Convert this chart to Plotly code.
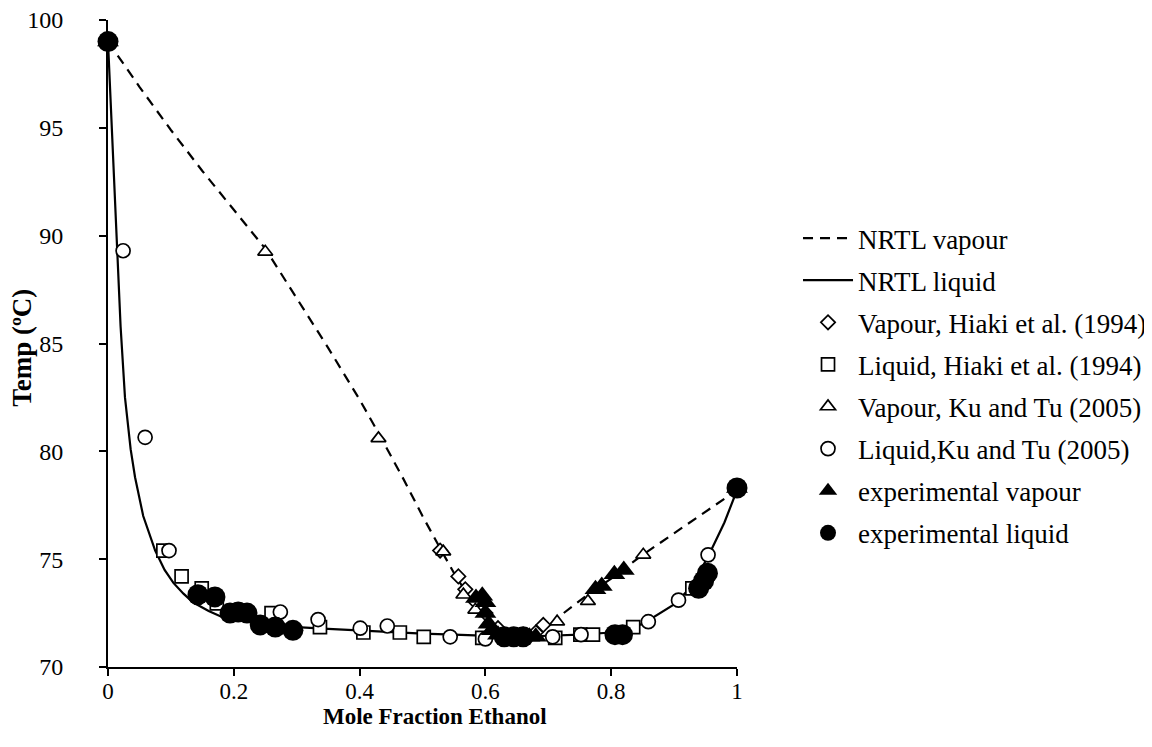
import plotly.graph_objects as go

# NRTL model curves
nrtl_vap_x = [0, 0.05, 0.1, 0.15, 0.2, 0.25, 0.3, 0.35, 0.4, 0.43, 0.47, 0.5, 0.53, 0.555,
              0.576, 0.6, 0.62, 0.64, 0.66, 0.68, 0.7, 0.72, 0.76, 0.8, 0.85, 0.9, 0.95, 1.0]
nrtl_vap_t = [99.0, 96.9, 94.9, 93.0, 91.2, 89.4, 87.1, 84.8, 82.4, 80.85, 78.7, 77.0, 75.4, 74.1,
              73.2, 72.3, 71.75, 71.45, 71.4, 71.55, 71.9, 72.4, 73.3, 74.1, 75.2, 76.2, 77.2, 78.2]

nrtl_liq_x = [0, 0.005, 0.01, 0.014, 0.02, 0.027, 0.036, 0.043, 0.056, 0.075, 0.09, 0.104, 0.12,
              0.135, 0.16, 0.183, 0.22, 0.26, 0.3, 0.35, 0.4, 0.45, 0.5, 0.55, 0.6, 0.65, 0.7,
              0.75, 0.8, 0.85, 0.9, 0.93, 0.957, 0.98, 1.0]
nrtl_liq_t = [99.0, 95.6, 92.4, 89.9, 85.8, 82.5, 80.1, 78.8, 77.0, 75.4, 74.5, 73.9, 73.4,
              73.0, 72.6, 72.3, 72.1, 71.95, 71.85, 71.77, 71.7, 71.6, 71.55, 71.5, 71.45, 71.4, 71.45,
              71.5, 71.6, 72.0, 72.9, 73.8, 75.3, 76.7, 78.2]

# Literature data
hiaki_vap_x = [0.528, 0.557, 0.568, 0.585, 0.6, 0.62, 0.68, 0.692]
hiaki_vap_t = [75.4, 74.2, 73.6, 73.0, 72.5, 71.8, 71.6, 71.95]

hiaki_liq_x = [0.088, 0.117, 0.149, 0.173, 0.26, 0.337, 0.406, 0.464, 0.502, 0.595, 0.711,
               0.751, 0.771, 0.835, 0.929]
hiaki_liq_t = [75.4, 74.2, 73.65, 72.95, 72.5, 71.85, 71.6, 71.6, 71.4, 71.35, 71.35,
               71.5, 71.5, 71.85, 73.65]

ku_vap_x = [0.25, 0.43, 0.533, 0.565, 0.584, 0.714, 0.763, 0.851, 1.0]
ku_vap_t = [89.25, 80.6, 75.35, 73.35, 72.65, 72.1, 73.05, 75.2, 78.3]

ku_liq_x = [0.024, 0.059, 0.097, 0.274, 0.334, 0.401, 0.444, 0.544, 0.6, 0.707, 0.752,
            0.859, 0.907, 0.954]
ku_liq_t = [89.3, 80.65, 75.4, 72.55, 72.2, 71.8, 71.9, 71.4, 71.3, 71.4, 71.5,
            72.1, 73.1, 75.2]

# Experimental data
exp_vap_x = [0.0, 0.585, 0.595, 0.6, 0.6, 0.605, 0.61, 0.62, 0.635, 0.65, 0.66, 0.67, 0.68,
             0.775, 0.785, 0.805, 0.82, 1.0]
exp_vap_t = [99.0, 73.2, 73.3, 73.0, 72.5, 72.0, 71.7, 71.5, 71.4, 71.4, 71.45, 71.4, 71.4,
             73.6, 73.75, 74.3, 74.5, 78.3]

exp_liq_x = [0.0, 0.143, 0.17, 0.194, 0.207, 0.221, 0.242, 0.266, 0.294, 0.63, 0.645, 0.66,
             0.806, 0.818, 0.939, 0.947, 0.953, 1.0]
exp_liq_t = [99.0, 73.35, 73.25, 72.5, 72.55, 72.5, 71.95, 71.85, 71.7, 71.4, 71.4, 71.4,
             71.5, 71.5, 73.65, 74.0, 74.35, 78.3]

x_ticks = [0, 0.2, 0.4, 0.6, 0.8, 1.0]
x_tick_labels = ["0", "0.2", "0.4", "0.6", "0.8", "1"]
y_ticks = [70, 75, 80, 85, 90, 95, 100]

x_title = "<b>Mole Fraction Ethanol</b>"
y_title = "<b>Temp (ºC)</b>"

FONT = "Liberation Serif, Times New Roman, serif"
BLACK = "black"

fig = go.Figure()
fig.add_trace(go.Scatter(x=nrtl_vap_x, y=nrtl_vap_t, mode="lines", name="NRTL vapour",
                         line=dict(color=BLACK, width=2.2, dash="10px,7px"), legendgroup="a"))
fig.add_trace(go.Scatter(x=nrtl_liq_x, y=nrtl_liq_t, mode="lines", name="NRTL liquid",
                         line=dict(color=BLACK, width=2.2), legendgroup="b"))

open_style = dict(color="white", line=dict(color=BLACK, width=1.7))
fig.add_trace(go.Scatter(x=hiaki_vap_x, y=hiaki_vap_t, mode="markers", name="Vapour, Hiaki et al. (1994)",
                         marker=dict(symbol="diamond", size=11, **open_style), legendgroup="c"))
fig.add_trace(go.Scatter(x=hiaki_liq_x, y=hiaki_liq_t, mode="markers", name="Liquid, Hiaki et al. (1994)",
                         marker=dict(symbol="square", size=13, **open_style), legendgroup="d"))
fig.add_trace(go.Scatter(x=ku_vap_x, y=ku_vap_t, mode="markers", name="Vapour, Ku and Tu (2005)",
                         marker=dict(symbol="triangle-up", size=13, **open_style), legendgroup="e"))
fig.add_trace(go.Scatter(x=ku_liq_x, y=ku_liq_t, mode="markers", name="Liquid,Ku and Tu (2005)",
                         marker=dict(symbol="circle", size=14, **open_style), legendgroup="f"))
fig.add_trace(go.Scatter(x=exp_vap_x, y=exp_vap_t, mode="markers", name="experimental vapour",
                         marker=dict(symbol="triangle-up", size=19, color=BLACK), legendgroup="g"))
fig.add_trace(go.Scatter(x=exp_liq_x, y=exp_liq_t, mode="markers", name="experimental liquid",
                         marker=dict(symbol="circle", size=21, color=BLACK), legendgroup="h"))

for tr in fig.data:
    tr.cliponaxis = False

fig.update_layout(
    width=1152, height=747,
    margin=dict(l=100, r=423, t=12, b=88, autoexpand=False),
    plot_bgcolor="white", paper_bgcolor="white",
    font=dict(family=FONT, size=23, color=BLACK),
    showlegend=True,
    legend=dict(x=1.097, xanchor="left", y=0.435, yanchor="middle",
                font=dict(family=FONT, size=27, color=BLACK),
                traceorder="grouped", tracegroupgap=4, itemsizing="trace", itemwidth=50,
                bgcolor="rgba(0,0,0,0)"),
    annotations=[
        dict(text=x_title, xref="paper", yref="paper", x=0.52, y=-0.077,
             xanchor="center", yanchor="middle", showarrow=False,
             font=dict(family=FONT, size=23, color=BLACK)),
        dict(text=y_title, xref="paper", yref="paper", x=-0.137, y=0.493,
             xanchor="center", yanchor="middle", showarrow=False, textangle=-90,
             font=dict(family=FONT, size=27, color=BLACK)),
    ],
)
fig.update_xaxes(range=[0, 1], tickvals=x_ticks, ticktext=x_tick_labels, automargin=False,
                 showgrid=False, zeroline=False, showline=True, linecolor=BLACK, linewidth=2,
                 ticks="outside", ticklen=7, tickwidth=2, tickcolor=BLACK,
                 tickfont=dict(family=FONT, size=23), ticklabelstandoff=-5,
                 ticklabeloverflow="allow")
fig.update_yaxes(range=[70, 100], tickvals=y_ticks, automargin=False,
                 showgrid=False, zeroline=False, showline=True, linecolor=BLACK, linewidth=2,
                 ticks="outside", ticklen=7, tickwidth=2, tickcolor=BLACK,
                 tickfont=dict(family=FONT, size=24), ticklabelstandoff=31,
                 ticklabeloverflow="allow")

fig.write_html("out.html")
